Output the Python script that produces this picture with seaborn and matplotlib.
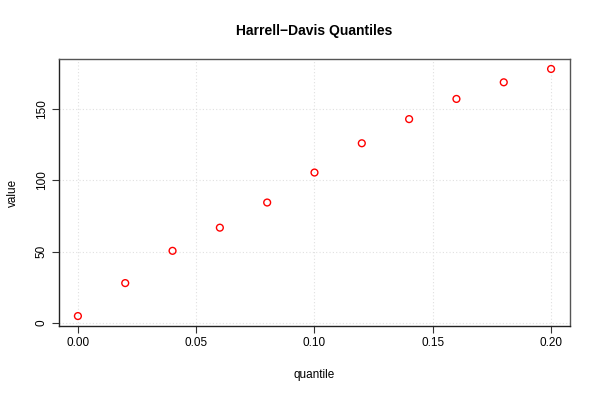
import numpy as np
import pandas as pd
import matplotlib
matplotlib.use("Agg")
import matplotlib.pyplot as plt
import seaborn as sns

# dados
quantis = [0.00, 0.02, 0.04, 0.06, 0.08, 0.10, 0.12, 0.14, 0.16, 0.18, 0.20]
valores = [4.6, 27.8, 50.5, 66.8, 84.5, 105.6, 126.2, 143.2, 157.4, 169.1, 178.5]
xticks = [0.00, 0.05, 0.10, 0.15, 0.20]
yticks = [0, 50, 100, 150]

df = pd.DataFrame({"quantile": quantis, "value": valores})

sns.set_style("white")
plt.rcParams["font.family"] = ["Liberation Sans", "DejaVu Sans"]
plt.rcParams["text.color"] = "black"
plt.rcParams["axes.labelcolor"] = "black"
plt.rcParams["xtick.color"] = "black"
plt.rcParams["ytick.color"] = "black"

fig = plt.figure(figsize=(6, 4), dpi=100)
ax = fig.add_axes([0.0983, 0.185, 0.8517, 0.6675])

sns.scatterplot(data=df, x="quantile", y="value", ax=ax, marker="o", s=24,
                facecolor="none", edgecolor="red", linewidth=1.0, zorder=3)

ax.set_xlim(-0.008, 0.208)
ax.set_ylim(-2.4, 185.5)
ax.set_xticks(xticks)
ax.set_xticklabels(["0.00", "0.05", "0.10", "0.15", "0.20"])
ax.set_yticks(yticks)
ax.set_yticklabels([str(v) for v in yticks], rotation=90, va="center")
ax.grid(True, color="#e0e0e0", linestyle=(0, (1, 2)), linewidth=0.8)
for s in ax.spines.values():
    s.set_color("#555555")
    s.set_linewidth(1.0)
ax.spines["left"].set_color("#222222")
ax.spines["bottom"].set_color("#222222")
ax.tick_params(axis="both", direction="out", length=5, width=0.8, color="#333333",
               labelsize=8.5, pad=3, bottom=True, left=True)

ax.set_xlabel("quantile", fontsize=8.5, labelpad=14)
ax.set_ylabel("value", fontsize=8.5, labelpad=12)
ax.set_title("Harrell\u2212Davis Quantiles", fontsize=10, fontweight="bold", pad=17)

fig.savefig("out.png", dpi=100)
